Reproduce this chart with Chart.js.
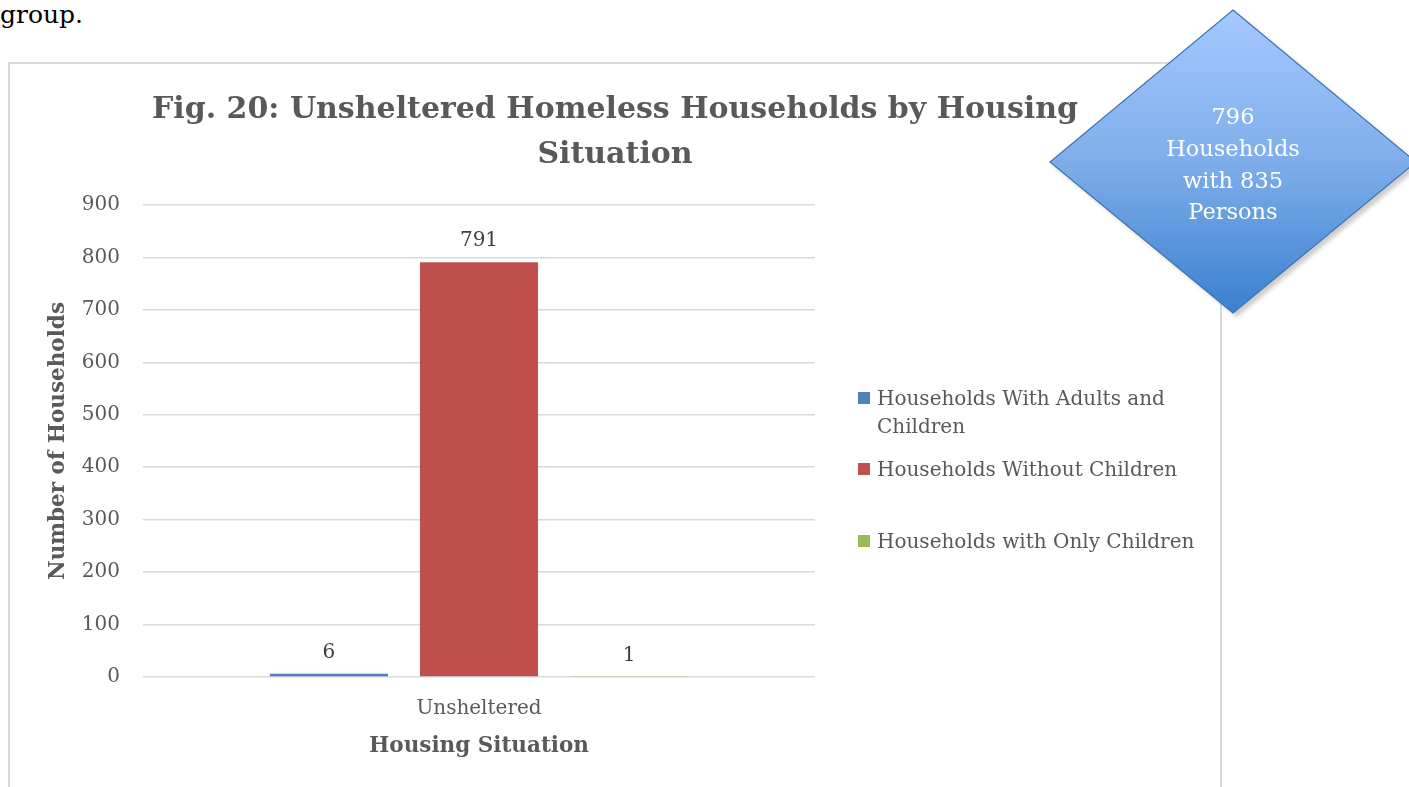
<!DOCTYPE html>
<html>
<head>
<meta charset="utf-8">
<script src="https://cdn.jsdelivr.net/npm/chart.js@4.4.0/dist/chart.umd.min.js"></script>
<style>
  body { margin: 0; width: 1409px; height: 787px; overflow: hidden; background: #fff; position: relative; font-family: 'DejaVu Serif', serif; }
  #bodytext { position: absolute; left: 0; top: 0; font-size: 25px; color: #000; }
  #box { position: absolute; left: 8px; top: 62px; width: 1214px; height: 760px; border: 2px solid #d9d9d9; box-sizing: border-box; }
  #wrap { position: absolute; left: 10px; top: 63px; width: 1210px; height: 724px; }
  #legend { position: absolute; left: 858px; top: 0; }
  .item { position: absolute; left: 0; width: 360px; }
  .sw { position: absolute; left: 0; top: 8px; width: 12px; height: 12px; }
  .lt { position: absolute; left: 19px; width: 330px; font-size: 20px; line-height: 28px; color: #595959; }
  #diamond { position: absolute; left: 1040px; top: 0; }
</style>
</head>
<body>
<div id="bodytext">group.</div>
<div id="box"></div>
<div id="wrap"><canvas id="chart"></canvas></div>
<div id="legend"></div>
<svg id="diamond" width="369" height="330">
  <defs>
    <linearGradient id="g" x1="0" y1="0" x2="0" y2="1">
      <stop offset="0" stop-color="#a5c8ff"/>
      <stop offset="0.5" stop-color="#7eaeea"/>
      <stop offset="1" stop-color="#3b80d0"/>
    </linearGradient>
    <filter id="blur"><feGaussianBlur stdDeviation="2"/></filter>
  </defs>
  <polygon points="197,14 380,166 197,317 14,166" fill="#9a9a9a" opacity="0.5" filter="url(#blur)"/>
  <polygon points="193,10 376,162 193,313 10,162" fill="url(#g)" stroke="#3f72b0" stroke-width="1.2"/>
  <g fill="#fff" font-family="DejaVu Serif" font-size="22.5" text-anchor="middle">
    <text x="193" y="124">796</text>
    <text x="193" y="156">Households</text>
    <text x="193" y="188">with 835</text>
    <text x="193" y="219">Persons</text>
  </g>
</svg>
<script>
// data
const categories = ['Unsheltered'];
const seriesNames = ['Households With Adults and Children', 'Households Without Children', 'Households with Only Children'];
const adultsAndChildren = [6];
const withoutChildren = [791];
const onlyChildren = [1];
const yTicks = [0, 100, 200, 300, 400, 500, 600, 700, 800, 900];

const colors = ['#4f81bd', '#c0504d', '#9bbb59'];
const textColor = '#595959';
const fontFamily = 'DejaVu Serif';

Chart.defaults.font.family = fontFamily;
Chart.defaults.color = textColor;

// value labels above each bar
const valueLabels = {
  id: 'valueLabels',
  afterDatasetsDraw(chart) {
    const ctx = chart.ctx;
    ctx.save();
    ctx.font = '20px ' + fontFamily;
    ctx.fillStyle = '#404040';
    ctx.textAlign = 'center';
    ctx.textBaseline = 'bottom';
    chart.data.datasets.forEach((ds, i) => {
      chart.getDatasetMeta(i).data.forEach((bar, j) => {
        ctx.fillText(ds.data[j], bar.x, bar.y - 11);
      });
    });
    ctx.restore();
  }
};

// center the title on the whole box, not only the plot side
const wideTitle = {
  id: 'wideTitle',
  afterLayout(chart) {
    const t = chart.titleBlock;
    if (t) {
      t.left = 0;
      t.right = chart.width;
      t.width = chart.width;
    }
  }
};

const seriesData = [adultsAndChildren, withoutChildren, onlyChildren];

const data = {
  labels: categories,
  datasets: seriesNames.map((name, i) => ({
    label: name,
    data: seriesData[i],
    backgroundColor: colors[i],
    categoryPercentage: 0.67,
    barPercentage: 0.787,
  })),
};

const options = {
  responsive: false,
  animation: false,
  layout: { padding: { left: 0, right: 405, top: 0, bottom: 28 } },
  plugins: {
    legend: { display: false },
    tooltip: { enabled: false },
    title: {
      display: true,
      text: ['Fig. 20: Unsheltered Homeless Households by Housing', 'Situation'],
      font: { size: 30, weight: 'bold', lineHeight: 1.5 },
      color: textColor,
      padding: { top: 25, bottom: 27 },
    },
  },
  scales: {
    x: {
      afterFit(scale) { scale.height = 82; },
      grid: { display: false, drawTicks: false },
      border: { display: false },
      ticks: { font: { size: 20 }, color: textColor, padding: 20 },
      title: {
        display: true,
        text: 'Housing Situation',
        font: { size: 21.5, weight: 'bold' },
        color: textColor,
        padding: { top: 10, bottom: 0 },
      },
    },
    y: {
      min: 0,
      max: 900,
      afterBuildTicks(scale) {
        scale.ticks = yTicks.map(v => ({ value: v }));
      },
      afterFit(scale) { scale.width = 133; },
      grid: { color: '#d9d9d9', lineWidth: 1.5, drawTicks: false },
      border: { display: false },
      ticks: { font: { size: 20 }, color: textColor, padding: 23 },
      title: {
        display: true,
        text: 'Number of Households',
        font: { size: 21.5, weight: 'bold' },
        color: textColor,
        padding: { top: 36, bottom: 0 },
      },
    },
  },
};

const canvas = document.getElementById('chart');
canvas.width = 1210;
canvas.height = 724;
new Chart(canvas.getContext('2d'), {
  type: 'bar',
  data: data,
  options: options,
  plugins: [valueLabels, wideTitle],
});

// legend built from the series names
const legendTops = [384, 455, 527];
const legend = document.getElementById('legend');
seriesNames.forEach((name, i) => {
  const item = document.createElement('div');
  item.className = 'item';
  item.style.top = legendTops[i] + 'px';
  item.innerHTML = '<div class="sw" style="background:' + colors[i] + '"></div><div class="lt">' + name + '</div>';
  legend.appendChild(item);
});
</script>
</body>
</html>
